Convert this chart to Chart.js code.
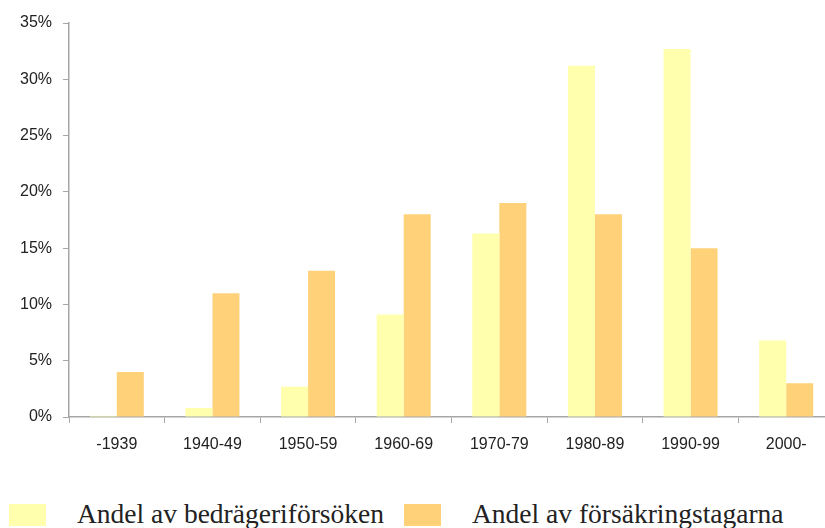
<!DOCTYPE html>
<html>
<head>
<meta charset="utf-8">
<script src="https://cdn.jsdelivr.net/npm/chart.js@4"></script>
<style>
  html, body { margin: 0; padding: 0; background: #fff; overflow: hidden; width: 825px; height: 528px; }
  #wrap { position: absolute; left: 0; top: 0; width: 834px; height: 470px; }
  .box { position: absolute; top: 504px; width: 37px; height: 22px; }
  .txt { position: absolute; top: 498px; font-family: "Liberation Serif", serif; font-size: 27.5px; line-height: normal; color: #222; white-space: nowrap; }
</style>
</head>
<body>
<div id="wrap"><canvas id="chart"></canvas></div>
<div id="legend"></div>
<script>
// Categories and values (percent)
const categories = ['-1939', '1940-49', '1950-59', '1960-69', '1970-79', '1980-89', '1990-99', '2000-'];
const bedrageri = [0.1, 0.8, 2.7, 9.1, 16.3, 31.2, 32.7, 6.8];
const forsakring = [4, 11, 13, 18, 19, 18, 15, 3];
const seriesNames = ['Andel av bedrägeriförsöken', 'Andel av försäkringstagarna'];
const seriesColors = ['#ffffad', '#ffd27a'];

// Legend drawn as html so it can sit exactly like the original
function buildLegend() {
    const legend = document.getElementById('legend');
    const boxX = [9, 404];
    const textX = [77, 472];
    seriesNames.forEach((name, i) => {
        const b = document.createElement('div');
        b.className = 'box';
        b.style.left = boxX[i] + 'px';
        b.style.background = seriesColors[i];
        legend.appendChild(b);
        const t = document.createElement('div');
        t.className = 'txt';
        t.style.left = textX[i] + 'px';
        t.textContent = name;
        legend.appendChild(t);
    });
}

const axisColor = '#a6a6a6';
const tickFont = { family: '"Liberation Sans", Arial, sans-serif', size: 16 };

new Chart(document.getElementById('chart'), {
    type: 'bar',
    data: {
        labels: categories,
        datasets: [
            { label: seriesNames[0], data: bedrageri, backgroundColor: seriesColors[0], categoryPercentage: 0.565, barPercentage: 1 },
            { label: seriesNames[1], data: forsakring, backgroundColor: seriesColors[1], categoryPercentage: 0.565, barPercentage: 1 }
        ]
    },
    options: {
        responsive: true,
        maintainAspectRatio: false,
        animation: false,
        layout: { padding: { top: 23, left: 0, right: 0, bottom: 0 } },
        plugins: {
            legend: { display: false },
            tooltip: { enabled: false }
        },
        scales: {
            x: {
                grid: { offset: true, drawOnChartArea: false, drawTicks: true, tickLength: 6, color: axisColor },
                border: { color: axisColor, width: 1.5 },
                ticks: { font: tickFont, color: '#222', padding: 12, maxRotation: 0 },
                afterFit: (scale) => { scale.height = 53; }
            },
            y: {
                min: 0,
                max: 35,
                grid: { drawOnChartArea: false, drawTicks: true, tickLength: 6, color: axisColor },
                border: { color: axisColor, width: 1.5 },
                ticks: {
                    stepSize: 5,
                    font: tickFont,
                    color: '#222',
                    padding: 11,
                    callback: (v) => v + '%'
                },
                afterFit: (scale) => { scale.width = 69; }
            }
        }
    }
});

buildLegend();
</script>
</body>
</html>
